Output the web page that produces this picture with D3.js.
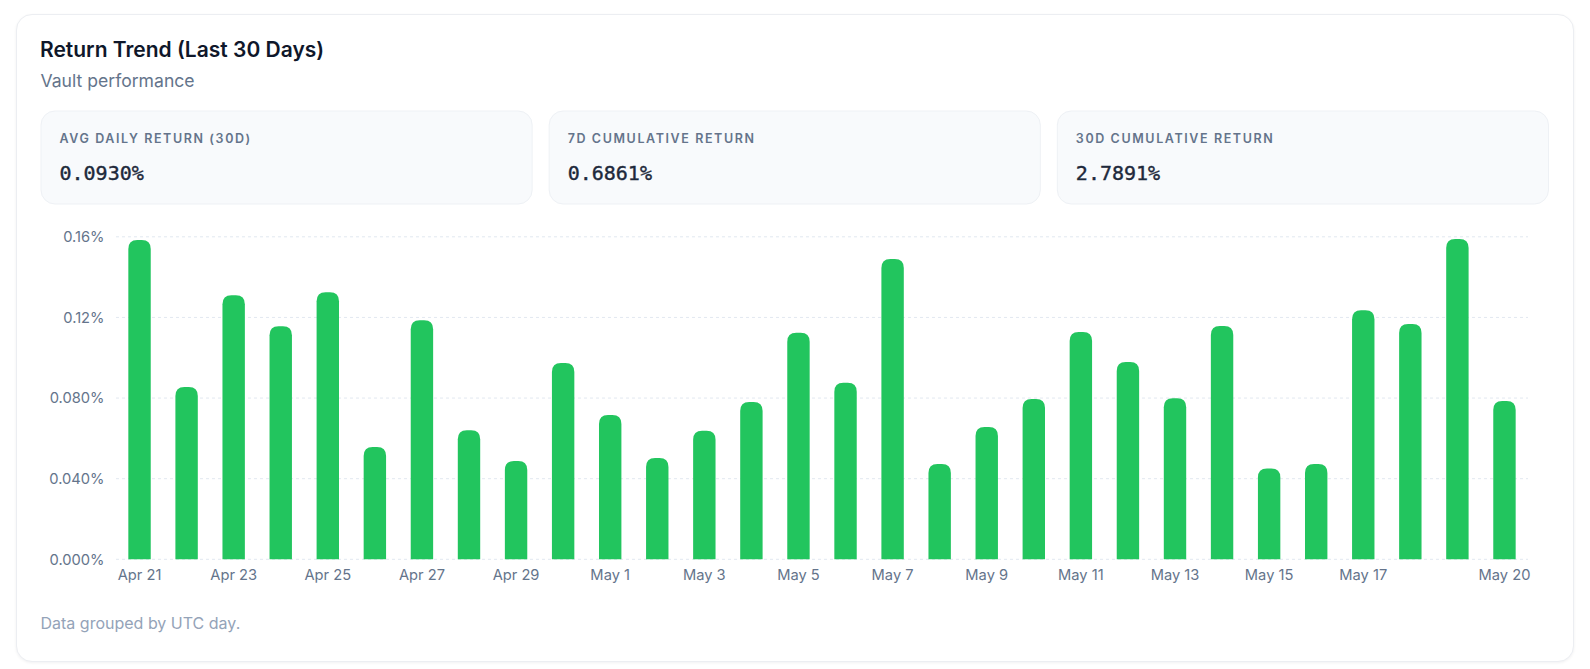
<!DOCTYPE html>
<html>
<head>
<meta charset="utf-8">
<script src="https://cdn.jsdelivr.net/npm/d3@7"></script>
<style>
  html, body { margin: 0; padding: 0; background: #ffffff; }
  body { width: 1590px; height: 669px; position: relative; overflow: hidden; font-family: "Inter", "Noto Sans", sans-serif; }
  #panel {
    position: absolute; left: 16px; top: 13.5px; width: 1556px; height: 646px;
    border: 1px solid #eceef2; border-radius: 16px; background: #fff;
    box-shadow: 0 1px 3px rgba(15, 23, 42, 0.06);
  }
  #chart { position: absolute; left: 0; top: 0; }
</style>
</head>
<body>
<div id="panel"></div>
<div id="chart"></div>
<script>
// chart data
var days = ["Apr 21", "Apr 22", "Apr 23", "Apr 24", "Apr 25", "Apr 26", "Apr 27", "Apr 28", "Apr 29", "Apr 30",
  "May 1", "May 2", "May 3", "May 4", "May 5", "May 6", "May 7", "May 8", "May 9", "May 10",
  "May 11", "May 12", "May 13", "May 14", "May 15", "May 16", "May 17", "May 18", "May 19", "May 20"];
var dailyReturn = [0.1584, 0.0855, 0.1310, 0.1156, 0.1325, 0.0557, 0.1186, 0.0640, 0.0488, 0.0974,
  0.0716, 0.0503, 0.0638, 0.0780, 0.1124, 0.0876, 0.1490, 0.0473, 0.0656, 0.0795,
  0.1128, 0.0979, 0.0799, 0.1157, 0.0451, 0.0473, 0.1235, 0.1167, 0.1589, 0.0785];
var xTickDays = ["Apr 21", "Apr 23", "Apr 25", "Apr 27", "Apr 29", "May 1", "May 3", "May 5", "May 7",
  "May 9", "May 11", "May 13", "May 15", "May 17", "May 20"];
var yTicks = [0, 0.04, 0.08, 0.12, 0.16];
var yTickLabels = ["0.000%", "0.040%", "0.080%", "0.12%", "0.16%"];
var statLabels = ["AVG DAILY RETURN (30D)", "7D CUMULATIVE RETURN", "30D CUMULATIVE RETURN"];
var statValues = ["0.0930%", "0.6861%", "2.7891%"];

var data = days.map(function (d, i) { return { day: d, value: dailyReturn[i] }; });

var svg = d3.select("#chart")
  .append("svg")
  .attr("width", 1590)
  .attr("height", 669);

// header
svg.append("text")
  .attr("x", 40).attr("y", 57)
  .style("font-size", "21px").style("font-weight", 600)
  .style("fill", "#0f172a")
  .text("Return Trend (Last 30 Days)");

svg.append("text")
  .attr("x", 40.5).attr("y", 87)
  .style("font-size", "17.6px")
  .style("fill", "#64748b")
  .text("Vault performance");

// stat cards
var cardX = d3.scaleBand().domain(d3.range(3)).range([40.5, 1549]).paddingInner(0.0315);
var cards = svg.append("g").selectAll("g")
  .data(statLabels)
  .enter()
  .append("g")
  .attr("transform", function (d, i) { return "translate(" + cardX(i) + ",110.5)"; });

cards.append("rect")
  .attr("x", 0.5).attr("y", 0.5)
  .attr("width", cardX.bandwidth() - 1).attr("height", 93)
  .attr("rx", 14)
  .style("fill", "#f8fafc")
  .style("stroke", "#eef1f5");

cards.append("text")
  .attr("x", 19).attr("y", 32.8)
  .style("font-size", "12.5px").style("font-weight", 600)
  .style("letter-spacing", "1.6px")
  .style("fill", "#64748b")
  .text(function (d) { return d; });

cards.append("text")
  .attr("x", 19).attr("y", 69.5)
  .style("font-family", "'DejaVu Sans Mono', monospace")
  .style("font-size", "20px").style("font-weight", 400)
  .style("fill", "#1e293b")
  .style("stroke", "#1e293b")
  .style("stroke-width", "0.4px")
  .text(function (d, i) { return statValues[i]; });

// bar chart
var x = d3.scaleBand()
  .domain(days)
  .range([116, 1528])
  .paddingInner(0.524)
  .paddingOuter(0.262);

var y = d3.scaleLinear()
  .domain([0, 0.16])
  .range([559.3, 236.8]);

svg.append("g")
  .selectAll("line")
  .data(yTicks)
  .enter()
  .append("line")
  .attr("x1", 116).attr("x2", 1528)
  .attr("y1", function (d) { return y(d); })
  .attr("y2", function (d) { return y(d); })
  .style("stroke", "#e2e8f0")
  .style("stroke-dasharray", "3 3");

svg.append("g")
  .selectAll("text")
  .data(yTicks)
  .enter()
  .append("text")
  .attr("x", 104.5)
  .attr("y", function (d) { return y(d); })
  .attr("dy", "0.36em")
  .attr("text-anchor", "end")
  .style("font-size", "14.7px")
  .style("fill", "#64748b")
  .text(function (d, i) { return yTickLabels[i]; });

function topRounded(x0, y0, w, h, r) {
  r = Math.min(r, w / 2, h);
  return "M" + x0 + "," + (y0 + h) +
    "V" + (y0 + r) +
    "Q" + x0 + "," + y0 + " " + (x0 + r) + "," + y0 +
    "H" + (x0 + w - r) +
    "Q" + (x0 + w) + "," + y0 + " " + (x0 + w) + "," + (y0 + r) +
    "V" + (y0 + h) + "Z";
}

svg.append("g")
  .selectAll("path")
  .data(data)
  .enter()
  .append("path")
  .attr("d", function (d) {
    return topRounded(x(d.day), y(d.value), x.bandwidth(), y(0) - y(d.value), 9);
  })
  .style("fill", "#22c55e");

svg.append("g")
  .selectAll("text")
  .data(xTickDays)
  .enter()
  .append("text")
  .attr("x", function (d) { return x(d) + x.bandwidth() / 2; })
  .attr("y", 580)
  .attr("text-anchor", "middle")
  .style("font-size", "14.7px")
  .style("fill", "#64748b")
  .text(function (d) { return d; });

// footer note
svg.append("text")
  .attr("x", 40.5).attr("y", 629)
  .style("font-size", "16px")
  .style("fill", "#94a3b8")
  .text("Data grouped by UTC day.");
</script>
</body>
</html>
